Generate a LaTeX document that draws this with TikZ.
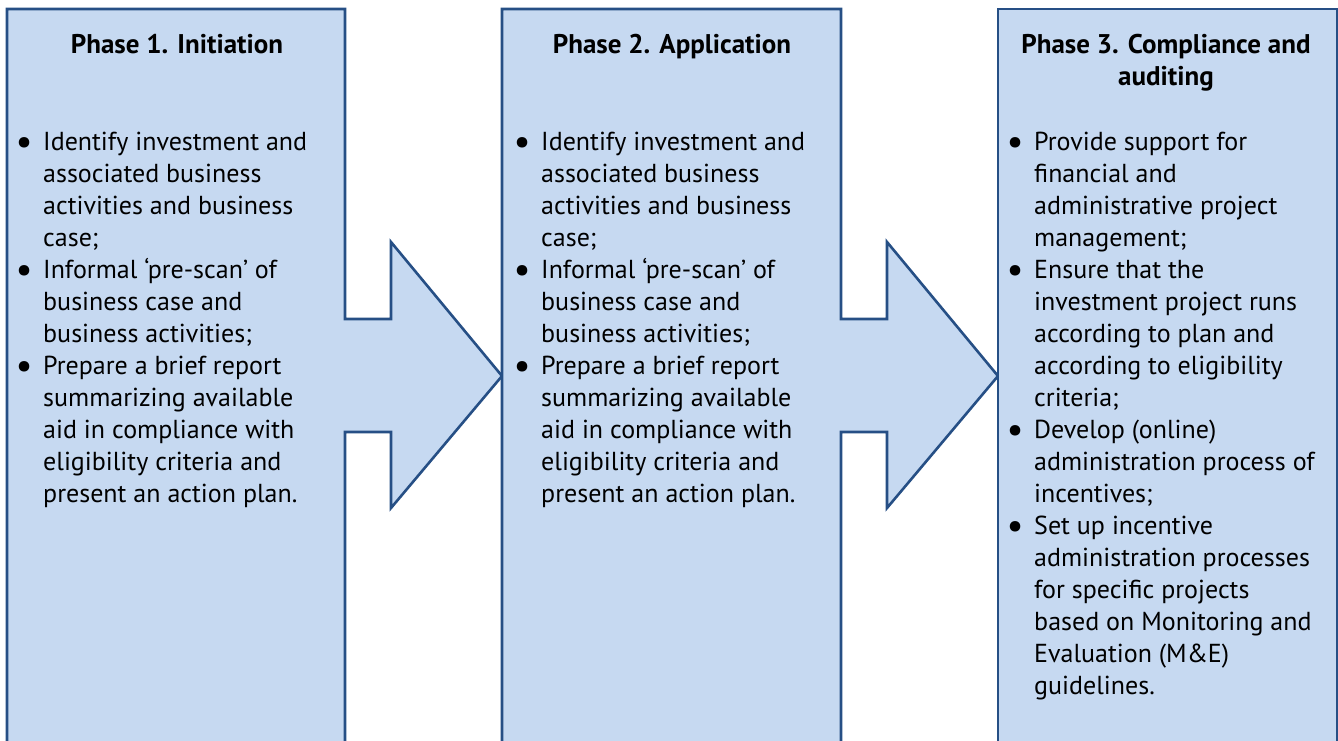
\documentclass[tikz,border=0pt]{standalone}
\usepackage{fontspec}
\setmainfont{PT Sans}
\definecolor{boxfill}{HTML}{C6D9F1}
\definecolor{boxline}{HTML}{264F85}
\tikzset{
  phase/.style={fill=boxfill, draw=boxline, line width=2.6pt, line join=miter},
  title/.style={inner sep=0pt, anchor=base, align=center, font=\fontsize{27}{32}\selectfont\bfseries},
  body/.style={inner sep=0pt, anchor=base west, font=\fontsize{26}{32}\selectfont}
}
\newcommand{\bl}{\llap{\makebox[0pt][c]{\raisebox{-4.5pt}{\scalebox{1.45}{\textbullet}}}\hspace{19pt}}}
\begin{document}
\begin{tikzpicture}[x=1pt,y=-1pt]
\useasboundingbox (0,0) rectangle (1338,740);
\begin{scope}
\clip (0,0) rectangle (1338,740);
\draw[phase] (7,760) -- (7,9) -- (345,9) -- (345,319) -- (391,319) -- (391,242) -- (502,376) -- (391,508) -- (391,432) -- (345,432) -- (345,760) -- cycle;
\draw[phase] (502,760) -- (502,9) -- (841,9) -- (841,319) -- (887,319) -- (887,242) -- (998,376) -- (887,508) -- (887,432) -- (841,432) -- (841,760) -- cycle;
\draw[phase] (998,760) -- (998,9) -- (1337,9) -- (1337,760) -- cycle;
\end{scope}

\node[title] (t1) at (177,53) {Phase 1. Initiation};
\node[title] (t2) at (672,53) {Phase 2. Application};
\node[title] (t3) at (1166,85) {Phase 3. Compliance and\\auditing};

\node[body] (b1) at (43,150) {\begin{tabular}[t]{@{}l@{}}
\bl Identify investment and\\
associated business\\
activities and business\\
case;\\
\bl Informal ‘pre-scan’ of\\
business case and\\
business activities;\\
\bl Prepare a brief report\\
summarizing available\\
aid in compliance with\\
eligibility criteria and\\
present an action plan.
\end{tabular}};

\node[body] (b2) at (541,150) {\begin{tabular}[t]{@{}l@{}}
\bl Identify investment and\\
associated business\\
activities and business\\
case;\\
\bl Informal ‘pre-scan’ of\\
business case and\\
business activities;\\
\bl Prepare a brief report\\
summarizing available\\
aid in compliance with\\
eligibility criteria and\\
present an action plan.
\end{tabular}};

\node[body] (b3) at (1034,150) {\begin{tabular}[t]{@{}l@{}}
\bl Provide support for\\
financial and\\
administrative project\\
management;\\
\bl Ensure that the\\
investment project runs\\
according to plan and\\
according to eligibility\\
criteria;\\
\bl Develop (online)\\
administration process of\\
incentives;\\
\bl Set up incentive\\
administration processes\\
for specific projects\\
based on Monitoring and\\
Evaluation (M\&E)\\
guidelines.
\end{tabular}};
\end{tikzpicture}
\end{document}
